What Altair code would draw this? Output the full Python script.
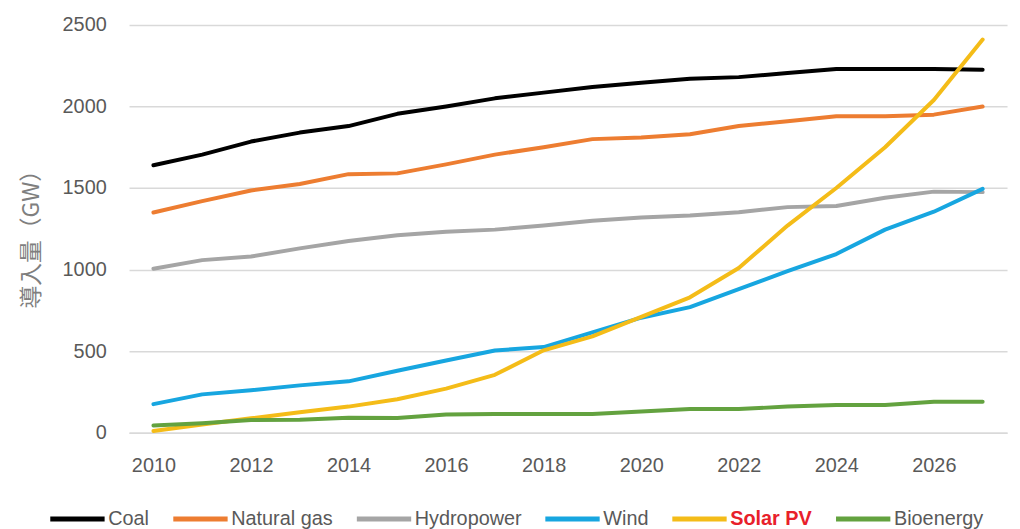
import altair as alt
import pandas as pd

years = list(range(2010, 2028))
series = ["Coal", "Natural gas", "Hydropower", "Wind", "Solar PV", "Bioenergy"]
colors = ["#000000", "#ED7D31", "#A5A5A5", "#17A6E0", "#F4BC18", "#63A23F"]

coal = [1640, 1705, 1785, 1840, 1880, 1955, 2000, 2050, 2085, 2120, 2145, 2170, 2180, 2205, 2230, 2230, 2230, 2225]
natural_gas = [1350, 1420, 1485, 1525, 1585, 1590, 1645, 1705, 1750, 1800, 1810, 1830, 1880, 1910, 1940, 1940, 1950, 2000]
hydropower = [1005, 1058, 1080, 1130, 1175, 1210, 1232, 1245, 1270, 1300, 1320, 1332, 1352, 1383, 1390, 1440, 1478, 1475]
wind = [175, 235, 260, 290, 315, 380, 443, 504, 525, 615, 705, 770, 880, 990, 1095, 1245, 1355, 1495]
solar_pv = [10, 50, 88, 125, 160, 205, 270, 355, 505, 590, 710, 830, 1010, 1270, 1500, 1750, 2040, 2410]
bioenergy = [44, 58, 78, 80, 92, 90, 112, 115, 115, 115, 130, 145, 145, 160, 170, 170, 190, 190]

x_ticks = list(range(2010, 2027, 2))
y_ticks = [0, 500, 1000, 1500, 2000, 2500]

rows = []
for name, vals in zip(series, [coal, natural_gas, hydropower, wind, solar_pv, bioenergy]):
    for yr, v in zip(years, vals):
        rows.append({"year": yr, "series": name, "value": v})
df = pd.DataFrame(rows)

label_font = "Liberation Sans"
gray = "#595959"

chart = alt.Chart(df).mark_line(
    strokeWidth=4, strokeCap="round", strokeJoin="round"
).encode(
    x=alt.X(
        "year:Q",
        scale=alt.Scale(domain=[2009.5, 2027.5], nice=False, zero=False),
        axis=alt.Axis(
            values=x_ticks, format="d", title=None, grid=False, ticks=False,
            domain=True, domainColor="#D9D9D9", domainWidth=1.5,
            labelPadding=23, labelFontSize=20, labelColor=gray,
            labelFont=label_font, labelOverlap=False, labelFlush=False,
        ),
    ),
    y=alt.Y(
        "value:Q",
        scale=alt.Scale(domain=[0, 2500], nice=False),
        axis=alt.Axis(
            values=y_ticks, format="d", title="導入量（GW）", grid=True, gridColor="#D9D9D9",
            gridWidth=1.5, ticks=False, domain=False, labelPadding=23,
            labelFontSize=20, labelColor=gray, labelFont=label_font,
            titleFont="Noto Sans CJK JP", titleFontSize=23, titleColor="#7F7F7F",
            titleFontWeight="normal", titleAngle=270, titleBaseline="middle",
            titleX=-98, titleY=210, titleAlign="center",
        ),
    ),
    color=alt.Color(
        "series:N",
        scale=alt.Scale(domain=series, range=colors),
        legend=alt.Legend(
            orient="none", legendX=-82, legendY=468, direction="horizontal",
            title=None, symbolType="stroke", symbolSize=3000, symbolStrokeWidth=5,
            labelFontSize=20, labelFont=label_font,
            labelColor=alt.ExprRef("datum.label == 'Solar PV' ? '#E8202A' : '#595959'"),
            labelFontWeight=alt.ExprRef("datum.label == 'Solar PV' ? 'bold' : 'normal'"),
            labelOffset=1, columnPadding=13, padding=0, columns=6,
        ),
    ),
).properties(
    width=885,
    height=411,
    autosize=alt.AutoSizeParams(type="none"),
    padding={"left": 122, "top": 15, "right": 5, "bottom": 95},
).configure_view(stroke=None)

chart.save("out.html", embed_options={"renderer": "svg", "actions": False})
